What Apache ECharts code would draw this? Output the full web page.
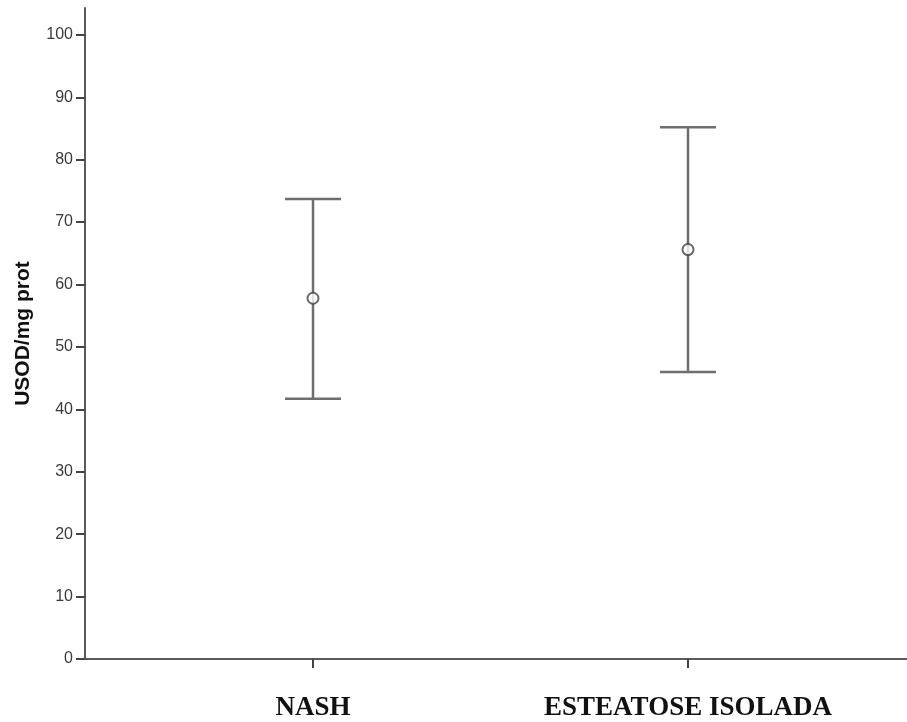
<!DOCTYPE html>
<html>
<head>
<meta charset="utf-8">
<script src="https://cdn.jsdelivr.net/npm/echarts@6/dist/echarts.min.js"></script>
<style>
  html, body { margin: 0; padding: 0; background: #fff; }
  #chart { width: 907px; height: 722px; }
</style>
</head>
<body>
<div id="chart"></div>
<script>
// Groups and their mean with 95% CI bounds (USOD/mg prot)
const categories = ['NASH', 'ESTEATOSE ISOLADA'];
const means = [57.8, 65.6];
const lowerCI = [41.7, 46.0];
const upperCI = [73.7, 85.2];
const yTicks = [0, 10, 20, 30, 40, 50, 60, 70, 80, 90, 100];

const chart = echarts.init(document.getElementById('chart'));

const lineColor = '#6e6e6e';
const catIndex = categories.map((c, i) => i);

chart.setOption({
  backgroundColor: '#fff',
  animation: false,
  grid: { left: 85, right: 0, top: 8, bottom: 63 },
  xAxis: {
    type: 'value',
    min: -0.608,
    max: 1.584,
    splitLine: { show: false },
    axisLine: { show: true, onZero: false, lineStyle: { color: '#5a5a5a', width: 2 } },
    axisTick: {
      show: true, length: 9, inside: false,
      customValues: catIndex,
      lineStyle: { color: '#444', width: 2 }
    },
    axisLabel: {
      customValues: catIndex,
      formatter: v => categories[Math.round(v)] || '',
      margin: 36,
      fontFamily: '"Liberation Serif", "Times New Roman", serif',
      fontWeight: 'bold',
      fontSize: 27,
      color: '#111'
    }
  },
  yAxis: {
    type: 'value',
    min: 0,
    max: 104.3,
    name: 'USOD/mg prot',
    nameLocation: 'middle',
    nameRotate: 90,
    nameGap: 51,
    nameTextStyle: {
      fontFamily: '"Liberation Sans", Arial, sans-serif',
      fontWeight: 'bold',
      fontSize: 21,
      color: '#111'
    },
    splitLine: { show: false },
    axisLine: { show: true, onZero: false, lineStyle: { color: '#5a5a5a', width: 2 } },
    axisTick: {
      show: true, length: 9,
      customValues: yTicks,
      lineStyle: { color: '#444', width: 2 }
    },
    axisLabel: {
      customValues: yTicks,
      margin: 12,
      fontFamily: '"Liberation Sans", Arial, sans-serif',
      fontSize: 16,
      color: '#3a3a3a'
    }
  },
  series: [
    {
      // confidence-interval whiskers with end caps
      type: 'custom',
      data: catIndex.map(i => [i, lowerCI[i], upperCI[i]]),
      encode: { x: 0, y: [1, 2] },
      renderItem: function (params, api) {
        const x = api.value(0);
        const lo = api.coord([x, api.value(1)]);
        const hi = api.coord([x, api.value(2)]);
        const half = 28;
        const style = { stroke: lineColor, lineWidth: 2.5 };
        return {
          type: 'group',
          children: [
            { type: 'line', shape: { x1: hi[0], y1: hi[1], x2: lo[0], y2: lo[1] }, style },
            { type: 'line', shape: { x1: hi[0] - half, y1: hi[1], x2: hi[0] + half, y2: hi[1] }, style },
            { type: 'line', shape: { x1: lo[0] - half, y1: lo[1], x2: lo[0] + half, y2: lo[1] }, style }
          ]
        };
      },
      z: 2
    },
    {
      // group means
      type: 'scatter',
      data: catIndex.map(i => [i, means[i]]),
      symbol: 'circle',
      symbolSize: 11,
      itemStyle: { color: '#fff', borderColor: '#444', borderWidth: 2 },
      z: 3
    }
  ]
});
</script>
</body>
</html>
